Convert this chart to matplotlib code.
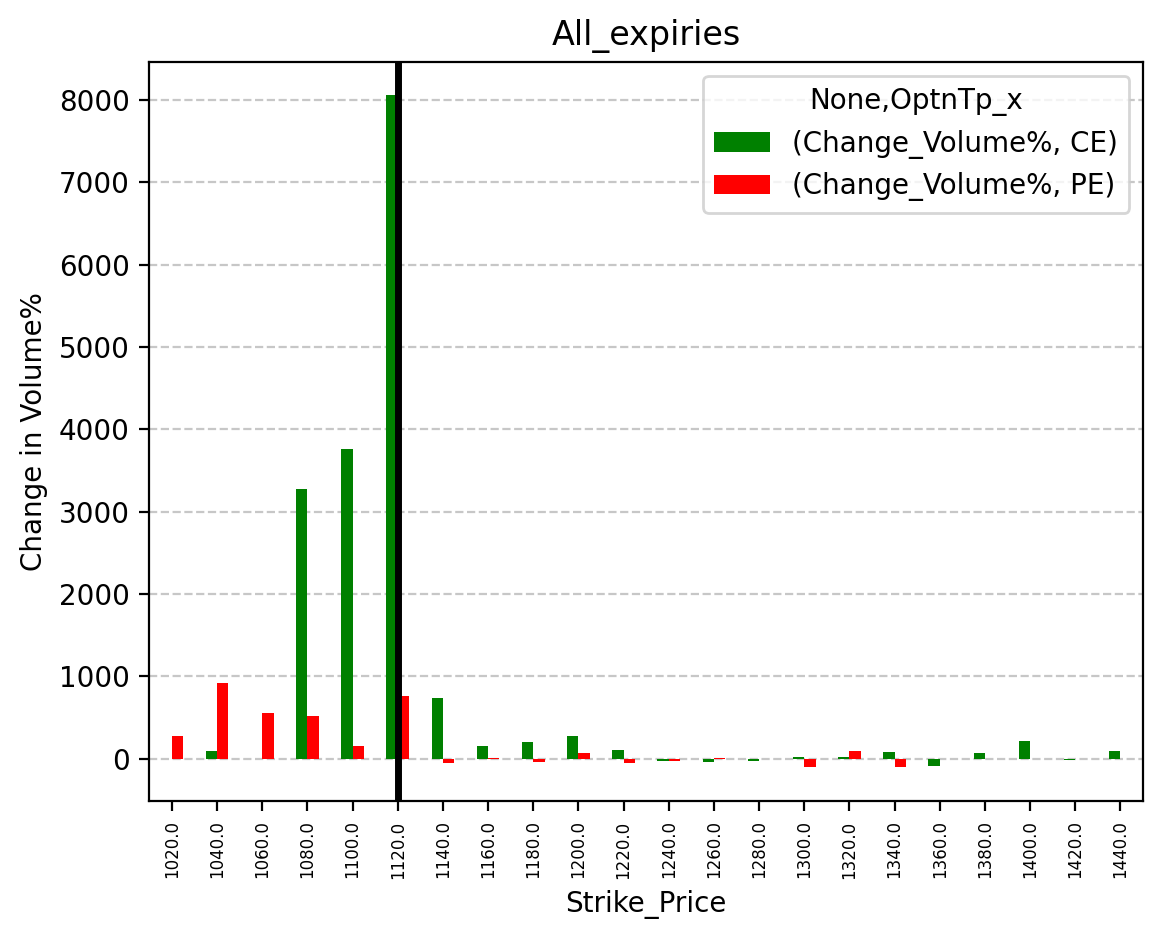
import matplotlib
matplotlib.use("Agg")
import matplotlib.pyplot as plt
import pandas as pd

strikes = [1020.0, 1040.0, 1060.0, 1080.0, 1100.0, 1120.0, 1140.0, 1160.0, 1180.0, 1200.0, 1220.0,
           1240.0, 1260.0, 1280.0, 1300.0, 1320.0, 1340.0, 1360.0, 1380.0, 1400.0, 1420.0, 1440.0]
ce_values = [0, 95, 0, 3280, 3755, 8057, 740, 155, 205, 275, 105,
             -28, -40, -28, 20, 20, 80, -90, 70, 215, -12, 93]
pe_values = [278, 923, 557, 520, 155, 765, -53, 5, -40, 70, -53,
             -28, 8, 0, -106, 93, -106, 0, 0, 0, -5, 0]
atm_strike = 1120.0

df = pd.DataFrame({"(Change_Volume%, CE)": ce_values,
                   "(Change_Volume%, PE)": pe_values},
                  index=pd.Index(strikes, name="Strike_Price"))

fig, ax = plt.subplots(figsize=(5.805, 4.695), dpi=200)
df.plot(kind="bar", ax=ax, color=["green", "red"], width=0.5)
ax.grid(axis="y", linestyle="--", alpha=0.7)
ax.set_axisbelow(True)
ax.axvline(strikes.index(atm_strike), color="black", linewidth=2.5)
ax.set_title("All_expiries")
ax.set_xlabel("Strike_Price")
ax.set_ylabel("Change in Volume%")
ax.tick_params(axis="x", labelsize=6, rotation=90)
ax.legend(title="None,OptnTp_x", loc="upper right")
fig.subplots_adjust(left=0.1286, right=0.9845, top=0.9343, bottom=0.147)
fig.savefig("out.png", dpi=200)
